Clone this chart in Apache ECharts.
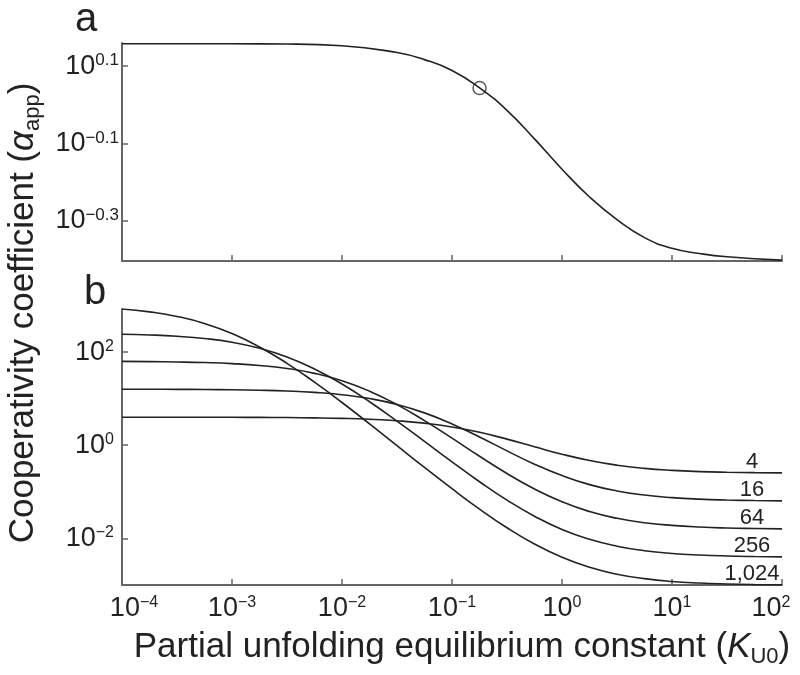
<!DOCTYPE html>
<html>
<head>
<meta charset="utf-8">
<script src="https://cdn.jsdelivr.net/npm/echarts@6/dist/echarts.min.js"></script>
<style>
  html, body { margin: 0; padding: 0; background: #fff; }
  #chart { width: 800px; height: 675px; }
</style>
</head>
<body>
<div id="chart"></div>
<script>
// panel a: single curve
const kTop = [1e-4, 1e-3, 3.16e-3, 1e-2, 3.16e-2, 5.62e-2, 0.1, 0.178, 0.316, 0.562, 1, 1.78, 3.16, 5.62, 10, 17.8, 31.6, 100];
const alphaTop = [1.438, 1.438, 1.436, 1.422, 1.365, 1.309, 1.227, 1.107, 0.968, 0.817, 0.682, 0.578, 0.505, 0.454, 0.426, 0.413, 0.405, 0.397];
const markK = [0.178];
const markAlpha = [1.105];

// panel b: one curve per n, quarter-decade steps
const kBottom = [1e-4, 1.78e-4, 3.16e-4, 5.62e-4, 1e-3, 1.78e-3, 3.16e-3, 5.62e-3, 1e-2, 1.78e-2, 3.16e-2, 5.62e-2,
  0.1, 0.178, 0.316, 0.562, 1, 1.78, 3.16, 5.62, 10, 17.8, 31.6, 56.2, 100];
const n4 = [4.00, 3.996, 3.992, 3.987, 3.976, 3.958, 3.925, 3.869, 3.773, 3.611, 3.354, 2.975,
  2.469, 1.894, 1.350, 0.925, 0.640, 0.469, 0.372, 0.318, 0.288, 0.271, 0.262, 0.257, 0.254];
const n16 = [15.95, 15.91, 15.85, 15.73, 15.53, 15.18, 14.59, 13.62, 12.13, 10.04, 7.51, 4.95,
  2.864, 1.500, 0.756, 0.391, 0.222, 0.142, 0.104, 0.0848, 0.0747, 0.0692, 0.0663, 0.0646, 0.0637];
const n64 = [63.2, 62.6, 61.5, 59.7, 56.7, 51.8, 44.6, 35.0, 24.3, 14.5, 7.46, 3.38,
  1.414, 0.578, 0.246, 0.114, 0.0606, 0.0375, 0.0268, 0.0216, 0.0189, 0.0174, 0.0166, 0.0162, 0.0159];
const n256 = [243, 234, 219, 196, 163, 121, 78.7, 43.5, 20.6, 8.59, 3.30, 1.206,
  0.438, 0.164, 0.0661, 0.0298, 0.0155, 0.00949, 0.00675, 0.00541, 0.00472, 0.00436, 0.00416, 0.00405, 0.00399];
const n1024 = [843, 733, 585, 413, 251, 129, 57.4, 22.7, 8.27, 2.87, 0.979, 0.333,
  0.116, 0.0423, 0.0168, 0.00752, 0.00390, 0.00238, 0.00169, 0.00136, 0.00118, 0.00109, 0.00104, 0.00101, 0.000996];
const curveNames = ['4', '16', '64', '256', '1,024'];

// ticks
const xTicks = [1e-4, 1e-3, 1e-2, 1e-1, 1, 10, 100];
const xTickLabels = ['−4', '−3', '−2', '−1', '0', '1', '2'];
const topYTicks = [0.5012, 0.7943, 1.2589];
const topYLabels = ['−0.3', '−0.1', '0.1'];
const botYTicks = [0.01, 1, 100];
const botYLabels = ['−2', '0', '2'];

const FONT = 'Liberation Sans, Arial, Helvetica, sans-serif';
const INK = '#222';
const AXIS = '#666';

function tickIndex(ticks, v) {
  for (let i = 0; i < ticks.length; i++) {
    if (Math.abs(v - ticks[i]) / ticks[i] < 1e-3) return i;
  }
  return -1;
}

const supRich = {
  b: { fontSize: 27, lineHeight: 28, fontFamily: FONT, color: INK },
  bl: { fontSize: 27, lineHeight: 28, fontFamily: FONT, color: INK, padding: [0, 0, 0, 24] },
  s: { fontSize: 16, lineHeight: 16, fontFamily: FONT, color: INK, verticalAlign: 'top' },
  sr: { fontSize: 16, lineHeight: 16, fontFamily: FONT, color: INK, verticalAlign: 'top', padding: [0, 22, 0, 0] },
  st: { fontSize: 17, lineHeight: 17, fontFamily: FONT, color: INK, verticalAlign: 'top' }
};

// first and last x labels are pushed inward, as in the figure
function xLabel(v) {
  const i = tickIndex(xTicks, v);
  if (i < 0) return '';
  if (i === 0) return '{bl|10}{s|' + xTickLabels[i] + '}';
  if (i === xTicks.length - 1) return '{b|10}{sr|' + xTickLabels[i] + '}';
  return '{b|10}{s|' + xTickLabels[i] + '}';
}

const axisLine = { show: true, lineStyle: { color: AXIS, width: 2 } };
const tickStyle = { color: AXIS, width: 1.5 };

const chart = echarts.init(document.getElementById('chart'));

const bottomSets = [n4, n16, n64, n256, n1024];
const bottomSeries = bottomSets.map((vals, j) => ({
  type: 'line',
  xAxisIndex: 1,
  yAxisIndex: 1,
  data: kBottom.map((k, i) => [k, vals[i]]),
  smooth: true,
  showSymbol: false,
  lineStyle: { color: INK, width: 1.6 },
  endLabel: {
    show: true,
    formatter: curveNames[j],
    fontSize: 22,
    fontFamily: FONT,
    color: INK,
    align: 'center',
    verticalAlign: 'bottom',
    distance: 0,
    offset: [-30, 0]
  }
}));

const titleRich = {
  t: { fontSize: 35, lineHeight: 42, fontFamily: FONT, fill: INK },
  it: { fontSize: 35, lineHeight: 42, fontFamily: FONT, fontStyle: 'italic', fill: INK },
  sub: { fontSize: 22, lineHeight: 22, fontFamily: FONT, fill: INK, verticalAlign: 'bottom' }
};

chart.setOption({
  animation: false,
  textStyle: { fontFamily: FONT },
  grid: [
    { left: 122, right: 18, top: 43, height: 218, outerBoundsMode: 'none' },
    { left: 122, right: 18, top: 309, height: 276, outerBoundsMode: 'none' }
  ],
  xAxis: [
    {
      type: 'log', gridIndex: 0, min: 1e-4, max: 100,
      axisLine: axisLine,
      axisTick: { inside: true, length: 6, customValues: xTicks, lineStyle: tickStyle },
      axisLabel: { show: false },
      splitLine: { show: false }
    },
    {
      type: 'log', gridIndex: 1, min: 1e-4, max: 100,
      axisLine: axisLine,
      axisTick: { inside: true, length: 6, customValues: xTicks, lineStyle: tickStyle },
      axisLabel: {
        customValues: xTicks,
        margin: 10,
        formatter: xLabel,
        rich: supRich
      },
      splitLine: { show: false }
    }
  ],
  yAxis: [
    {
      type: 'log', gridIndex: 0, min: 0.395, max: 1.445,
      axisLine: axisLine,
      axisTick: { inside: true, length: 6, customValues: topYTicks, lineStyle: tickStyle },
      axisLabel: {
        customValues: topYTicks,
        margin: 3,
        formatter: v => '{b|10}{st|' + topYLabels[tickIndex(topYTicks, v)] + '}',
        rich: supRich
      },
      splitLine: { show: false }
    },
    {
      type: 'log', gridIndex: 1, min: 0.00099, max: 845,
      axisLine: axisLine,
      axisTick: { inside: true, length: 6, customValues: botYTicks, lineStyle: tickStyle },
      axisLabel: {
        customValues: botYTicks,
        margin: 8,
        formatter: v => '{b|10}{s|' + botYLabels[tickIndex(botYTicks, v)] + '}',
        rich: supRich
      },
      splitLine: { show: false }
    }
  ],
  graphic: [
    { type: 'text', x: 75, y: 20, style: { text: 'a', fontSize: 40, fontFamily: FONT, fill: INK, verticalAlign: 'middle' } },
    { type: 'text', x: 84, y: 293, style: { text: 'b', fontSize: 40, fontFamily: FONT, fill: INK, verticalAlign: 'middle' } },
    {
      type: 'text', x: 23, y: 313, rotation: Math.PI / 2,
      style: {
        text: '{t|Cooperativity coefficient (}{it|α}{sub|app}{t|)}',
        align: 'center', verticalAlign: 'middle',
        rich: titleRich
      }
    },
    {
      type: 'text', x: 462, y: 647,
      style: {
        text: '{t|Partial unfolding equilibrium constant (}{it|K}{sub|U0}{t|)}',
        align: 'center', verticalAlign: 'middle',
        rich: titleRich
      }
    }
  ],
  series: [
    {
      type: 'line',
      xAxisIndex: 0,
      yAxisIndex: 0,
      data: kTop.map((k, i) => [k, alphaTop[i]]),
      smooth: true,
      showSymbol: false,
      lineStyle: { color: INK, width: 1.6 }
    },
    {
      type: 'scatter',
      xAxisIndex: 0,
      yAxisIndex: 0,
      data: markK.map((k, i) => [k, markAlpha[i]]),
      symbol: 'circle',
      symbolSize: 13,
      itemStyle: { color: 'rgba(0,0,0,0)', borderColor: '#333', borderWidth: 1.5 }
    }
  ].concat(bottomSeries)
});
</script>
</body>
</html>
